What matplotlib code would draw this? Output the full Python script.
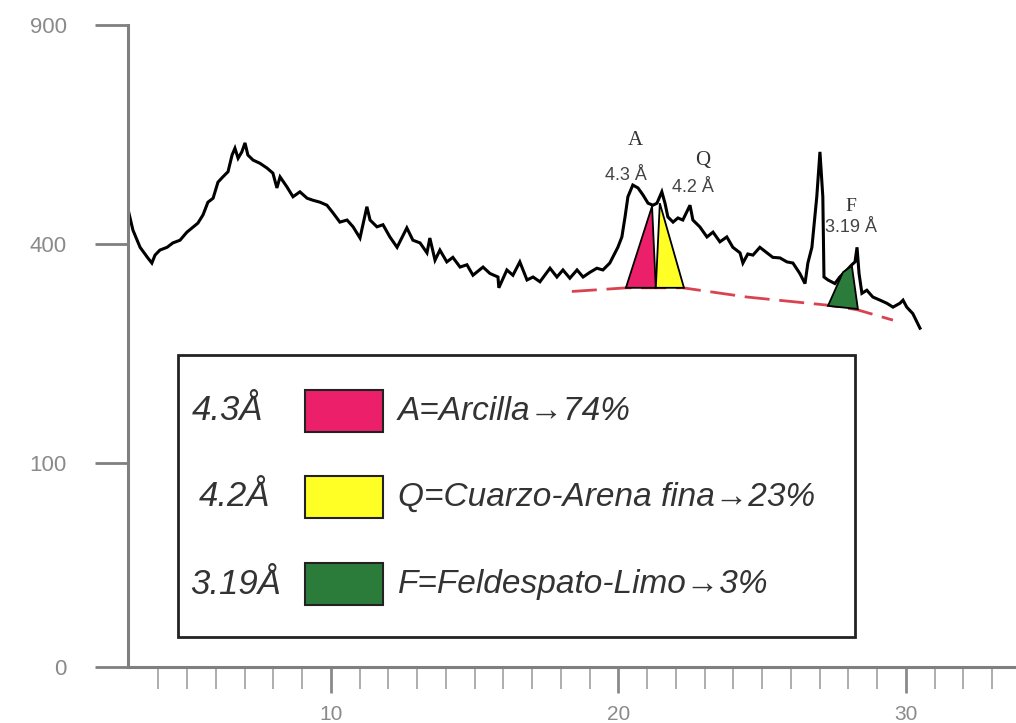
import numpy as np
import matplotlib
matplotlib.use("Agg")
import matplotlib.pyplot as plt
from matplotlib.patches import Polygon, Rectangle

plt.rcParams['font.family'] = ['Liberation Sans', 'DejaVu Sans']

# difractograma (2-theta, cuentas)
two_theta = [2.97, 3.11, 3.36, 3.63, 3.77, 3.88, 4.05, 4.30, 4.50, 4.75, 4.99, 5.17, 5.37, 5.55,
             5.72, 5.90, 6.07, 6.24, 6.42, 6.56, 6.66, 6.77, 6.90, 7.01, 7.11, 7.29, 7.53, 7.77,
             7.98, 8.12, 8.23, 8.47, 8.68, 8.92, 9.17, 9.37, 9.62, 9.86, 10.07, 10.31, 10.56,
             10.77, 11.01, 11.25, 11.36, 11.60, 11.81, 12.05, 12.30, 12.64, 12.85, 13.10, 13.34,
             13.44, 13.62, 13.79, 14.03, 14.24, 14.49, 14.73, 14.94, 15.29, 15.53, 15.81, 15.84,
             16.12, 16.33, 16.57, 16.82, 17.03, 17.27, 17.62, 17.86, 18.07, 18.31, 18.56, 18.77,
             19.01, 19.25, 19.46, 19.70, 19.88, 19.98, 20.12, 20.23, 20.33, 20.50, 20.68, 20.85,
             21.03, 21.20, 21.34, 21.51, 21.62, 21.72, 21.90, 22.07, 22.24, 22.49, 22.59, 22.83,
             23.08, 23.29, 23.53, 23.77, 23.98, 24.23, 24.33, 24.50, 24.68, 24.92, 25.17, 25.37,
             25.62, 25.86, 26.07, 26.31, 26.49, 26.59, 26.73, 26.90, 27.01, 27.11, 27.15, 27.29,
             27.53, 27.70, 27.95, 28.12, 28.23, 28.30, 28.37, 28.47, 28.64, 28.85, 29.10, 29.34,
             29.55, 29.79, 29.90, 30.03, 30.24, 30.49]
counts = [459, 426, 394, 375, 366, 380, 389, 394, 402, 407, 422, 430, 439, 455,
          480, 488, 521, 532, 543, 579, 594, 572, 586, 606, 579, 568, 561, 551,
          540, 509, 532, 511, 491, 501, 488, 484, 480, 474, 459, 441, 445,
          432, 411, 471, 445, 432, 436, 413, 394, 430, 407, 402, 384,
          411, 371, 389, 368, 376, 359, 363, 345, 359, 348, 342, 324,
          354, 345, 368, 337, 342, 334, 357, 342, 354, 340, 354, 342,
          350, 357, 354, 366, 384, 394, 413, 451, 491, 515, 509, 495,
          478, 474, 478, 501, 478, 451, 441, 449, 445, 474, 445, 432,
          413, 422, 404, 413, 394, 384, 366, 382, 380, 394, 384, 376,
          375, 368, 366, 348, 331, 366, 394, 491, 586, 491, 342, 337,
          331, 342, 354, 363, 368, 394, 348, 315, 320, 309, 304, 299,
          293, 299, 304, 293, 283, 261]

# linea base
base_x = [18.38, 20.30, 22.24, 24.47, 27.29, 28.30, 29.55]
base_y = [318, 324, 324, 309, 296, 289, 273]

# areas de los picos
arcilla_x = [20.26, 21.17, 21.30]
arcilla_y = [324, 472, 324]
cuarzo_x = [21.30, 21.44, 22.28]
cuarzo_y = [324, 478, 324]
feldes_x = [27.29, 27.81, 28.12, 28.33]
feldes_y = [295, 350, 361, 290]

fills = ['#ec1f6b', '#ffff26', '#2b7b3b']
spacings = ['4.3Å', '4.2Å', '3.19Å']
minerals = ['A=Arcilla→74%', 'Q=Cuarzo-Arena fina→23%', 'F=Feldespato-Limo→3%']

W, H = 1016, 723
fig = plt.figure(figsize=(W / 100, H / 100), dpi=100)
ax = fig.add_axes([128 / W, 1 - 667 / H, 888 / W, 642 / H])

ax.set_yscale('function', functions=(lambda v: np.sqrt(np.clip(v, 0, None) + 0.5),
                                     lambda s: s ** 2 - 0.5))
ax.set_xlim(2.94, 33.83)
ax.set_ylim(0, 900)

ax.plot(two_theta, counts, color='black', lw=2.2, solid_joinstyle='miter')
ax.plot(base_x, base_y, color='#d9434f', lw=2, dashes=(9, 3.5))

for xs, ys, c in zip([arcilla_x, cuarzo_x, feldes_x], [arcilla_y, cuarzo_y, feldes_y], fills):
    ax.add_patch(Polygon(list(zip(xs, ys)), closed=True, facecolor=c,
                         edgecolor='black', lw=1.3, zorder=3))

# etiquetas de picos
ax.text(20.60, 612, 'A', fontsize=15, family='Liberation Serif', color='#333', ha='center', va='center')
ax.text(20.27, 535, '4.3 Å', fontsize=13, color='#444', ha='center', va='center')
ax.text(22.93, 567, 'Q', fontsize=15, family='Liberation Serif', color='#333', ha='center', va='center')
ax.text(22.60, 510, '4.2 Å', fontsize=13, color='#444', ha='center', va='center')
ax.text(28.08, 472, 'F', fontsize=14, family='Liberation Serif', color='#333', ha='center', va='center')
ax.text(28.10, 430, '3.19 Å', fontsize=13, color='#444', ha='center', va='center')

ax.set_xticks([10, 20, 30])
ax.set_xticklabels(['10', '20', '30'])
ax.set_xticks(np.arange(4, 34), minor=True)
ax.set_yticks([0, 100, 400, 900])
ax.tick_params(axis='y', length=24, width=2, color='#808080', labelcolor='#8a8a8a',
               labelsize=16, pad=20)
ax.tick_params(axis='x', which='major', length=19, width=2, color='#8a8a8a',
               labelcolor='#8a8a8a', labelsize=15, pad=8)
ax.tick_params(axis='x', which='minor', length=16, width=1.2, color='#a0a0a0')
for s in ['top', 'right']:
    ax.spines[s].set_visible(False)
for s in ['left', 'bottom']:
    ax.spines[s].set_color('#808080')
    ax.spines[s].set_linewidth(2.2)


def fpos(x, y):
    return x / W, 1 - y / H


# cuadro de leyenda
x0, y0 = fpos(178, 637)
x1, y1 = fpos(855, 355)
fig.add_artist(Rectangle((x0, y0), x1 - x0, y1 - y0, transform=fig.transFigure,
                         facecolor='white', edgecolor='#222', lw=2))
rows_y = [411, 497, 584]
for i in range(3):
    sx, sy = fpos(305, rows_y[i] + 21)
    fig.add_artist(Rectangle((sx, sy), 78 / W, 42 / H, transform=fig.transFigure,
                             facecolor=fills[i], edgecolor='#222', lw=1.5))
    fig.text(*fpos(192 + [0, 7, -2][i], rows_y[i]), spacings[i], fontsize=25,
             style='italic', color='#333', va='center', ha='left')
    fig.text(*fpos(398, rows_y[i]), minerals[i], fontsize=24,
             style='italic', color='#333', va='center', ha='left')

fig.savefig('out.png', dpi=100)
